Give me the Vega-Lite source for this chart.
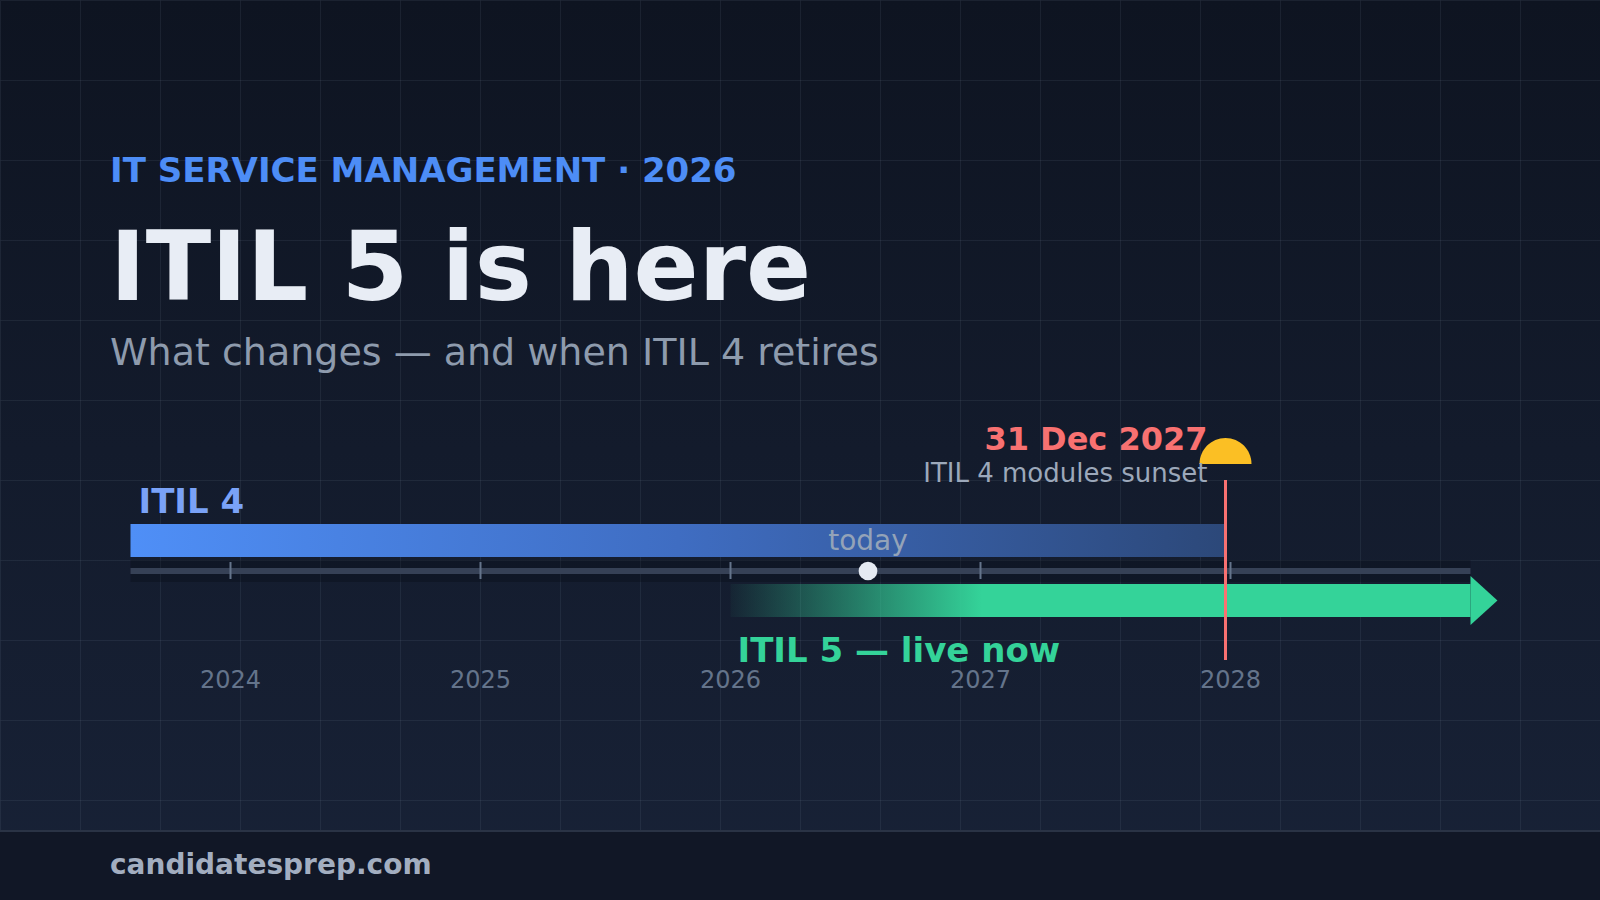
{
  "$schema": "https://vega.github.io/schema/vega-lite/v6.json",
  "width": 1600,
  "height": 900,
  "autosize": {"type": "none"},
  "padding": 0,
  "background": "#0f1522",
  "view": {
    "stroke": null,
    "fill": {
      "gradient": "linear", "x1": 0, "y1": 0, "x2": 0, "y2": 1,
      "stops": [
        {"offset": 0, "color": "#0e1421"},
        {"offset": 1, "color": "#182237"}
      ]
    }
  },
  "datasets": {
    "phases": [
      {"phase": "ITIL 4", "label": "ITIL 4", "start": 2023.6, "end": 2027.98},
      {"phase": "ITIL 5", "label": "ITIL 5 — live now", "start": 2026.0, "end": 2028.96}
    ],
    "years": [
      {"year": 2024}, {"year": 2025}, {"year": 2026}, {"year": 2027}, {"year": 2028}
    ],
    "events": [
      {"event": "today", "date": 2026.55, "label": "today", "note": ""},
      {"event": "sunset", "date": 2027.98, "label": "31 Dec 2027", "note": "ITIL 4 modules sunset"}
    ],
    "header": [
      {
        "kicker": "IT SERVICE MANAGEMENT · 2026",
        "title": "ITIL 5 is here",
        "subtitle": "What changes — and when ITIL 4 retires",
        "site": "candidatesprep.com"
      }
    ]
  },
  "layer": [
    {
      "data": {"name": "phases"},
      "transform": [
        {"aggregate": [
          {"op": "min", "field": "start", "as": "start"},
          {"op": "max", "field": "end", "as": "end"}
        ]}
      ],
      "mark": {"type": "rect", "fill": "#070b14", "opacity": 0.3},
      "encoding": {
        "x": {
          "field": "start", "type": "quantitative", "title": null,
          "scale": {"domain": [2023.078, 2029.478], "nice": false, "zero": false},
          "axis": {
            "orient": "top",
            "values": [2023.078, 2023.398, 2023.718, 2024.038, 2024.358, 2024.678, 2024.998, 2025.318, 2025.638, 2025.958, 2026.278, 2026.598, 2026.918, 2027.238, 2027.558, 2027.878, 2028.198, 2028.518, 2028.838, 2029.158, 2029.478]
          }
        },
        "x2": {"field": "end"},
        "y": {
          "datum": 560,
          "scale": {"domain": [0, 900], "reverse": true, "nice": false, "zero": false},
          "axis": {"values": [0, 80, 160, 240, 320, 400, 480, 560, 640, 720, 800]}
        },
        "y2": {"datum": 582}
      }
    },
    {
      "data": {"name": "phases"},
      "transform": [{"filter": "datum.phase === 'ITIL 4'"}],
      "mark": {
        "type": "rect",
        "fill": {
          "gradient": "linear", "x1": 0, "y1": 0, "x2": 1, "y2": 0,
          "stops": [
            {"offset": 0, "color": "#4f8ff7"},
            {"offset": 0.5, "color": "#3f6dc2"},
            {"offset": 1, "color": "#2c4879"}
          ]
        }
      },
      "encoding": {
        "x": {"field": "start", "type": "quantitative", "title": null},
        "x2": {"field": "end"},
        "y": {"datum": 524},
        "y2": {"datum": 557}
      }
    },
    {
      "data": {"name": "phases"},
      "transform": [
        {"aggregate": [
          {"op": "min", "field": "start", "as": "start"},
          {"op": "max", "field": "end", "as": "end"}
        ]}
      ],
      "mark": {"type": "rect", "fill": "#364156"},
      "encoding": {
        "x": {"field": "start", "type": "quantitative", "title": null},
        "x2": {"field": "end"},
        "y": {"datum": 568},
        "y2": {"datum": 574}
      }
    },
    {
      "data": {"name": "years"},
      "mark": {"type": "rule", "stroke": "#64748b", "strokeWidth": 2},
      "encoding": {
        "x": {"field": "year", "type": "quantitative", "title": null},
        "y": {"datum": 562},
        "y2": {"datum": 579}
      }
    },
    {
      "data": {"name": "phases"},
      "transform": [{"filter": "datum.phase === 'ITIL 5'"}],
      "mark": {
        "type": "rect",
        "fill": {
          "gradient": "linear", "x1": 0, "y1": 0, "x2": 1, "y2": 0,
          "stops": [
            {"offset": 0, "color": "rgba(52,211,153,0.04)"},
            {"offset": 0.34, "color": "#34d399"},
            {"offset": 1, "color": "#34d399"}
          ]
        }
      },
      "encoding": {
        "x": {"field": "start", "type": "quantitative", "title": null},
        "x2": {"field": "end"},
        "y": {"datum": 584},
        "y2": {"datum": 617}
      }
    },
    {
      "data": {"name": "phases"},
      "transform": [{"filter": "datum.phase === 'ITIL 5'"}],
      "mark": {
        "type": "point", "filled": true, "opacity": 1, "color": "#34d399",
        "shape": "M 0 -1 L 1.1 0 L 0 1 Z", "size": 2401
      },
      "encoding": {
        "x": {"field": "end", "type": "quantitative", "title": null},
        "y": {"datum": 600.5}
      }
    },
    {
      "data": {"name": "events"},
      "transform": [{"filter": "datum.event === 'sunset'"}],
      "mark": {"type": "rule", "stroke": "#f87171", "strokeWidth": 3},
      "encoding": {
        "x": {"field": "date", "type": "quantitative", "title": null},
        "y": {"datum": 480},
        "y2": {"datum": 660}
      }
    },
    {
      "data": {"name": "events"},
      "transform": [{"filter": "datum.event === 'sunset'"}],
      "mark": {
        "type": "point", "filled": true, "opacity": 1, "color": "#fbbf24",
        "shape": "M -1 0 A 1 1 0 0 1 1 0 Z", "size": 2704
      },
      "encoding": {
        "x": {"field": "date", "type": "quantitative", "title": null},
        "y": {"datum": 464}
      }
    },
    {
      "data": {"name": "events"},
      "transform": [{"filter": "datum.event === 'today'"}],
      "mark": {"type": "point", "filled": true, "opacity": 1, "color": "#e5eaf2", "shape": "circle", "size": 350},
      "encoding": {
        "x": {"field": "date", "type": "quantitative", "title": null},
        "y": {"datum": 571}
      }
    },
    {
      "data": {"name": "events"},
      "transform": [{"filter": "datum.event === 'today'"}],
      "mark": {"type": "text", "align": "center", "baseline": "alphabetic", "fontSize": 28, "color": "#94a3b8"},
      "encoding": {
        "x": {"field": "date", "type": "quantitative", "title": null},
        "y": {"datum": 550},
        "text": {"field": "label"}
      }
    },
    {
      "data": {"name": "years"},
      "mark": {"type": "text", "align": "center", "baseline": "alphabetic", "fontSize": 24, "color": "#64748b"},
      "encoding": {
        "x": {"field": "year", "type": "quantitative", "title": null},
        "y": {"datum": 688},
        "text": {"field": "year", "type": "quantitative", "format": "d"}
      }
    },
    {
      "data": {"name": "phases"},
      "transform": [{"filter": "datum.phase === 'ITIL 4'"}],
      "mark": {"type": "text", "align": "left", "baseline": "alphabetic", "dx": 8, "fontSize": 34, "fontWeight": "bold", "color": "#7aa2f7"},
      "encoding": {
        "x": {"field": "start", "type": "quantitative", "title": null},
        "y": {"datum": 513},
        "text": {"field": "label"}
      }
    },
    {
      "data": {"name": "phases"},
      "transform": [{"filter": "datum.phase === 'ITIL 5'"}],
      "mark": {"type": "text", "align": "left", "baseline": "alphabetic", "dx": 7, "fontSize": 34, "fontWeight": "bold", "color": "#34d399"},
      "encoding": {
        "x": {"field": "start", "type": "quantitative", "title": null},
        "y": {"datum": 662},
        "text": {"field": "label"}
      }
    },
    {
      "data": {"name": "events"},
      "transform": [{"filter": "datum.event === 'sunset'"}],
      "mark": {"type": "text", "align": "right", "baseline": "alphabetic", "dx": -18, "fontSize": 32, "fontWeight": "bold", "color": "#f87171"},
      "encoding": {
        "x": {"field": "date", "type": "quantitative", "title": null},
        "y": {"datum": 450},
        "text": {"field": "label"}
      }
    },
    {
      "data": {"name": "events"},
      "transform": [{"filter": "datum.event === 'sunset'"}],
      "mark": {"type": "text", "align": "right", "baseline": "alphabetic", "dx": -18, "fontSize": 26, "color": "#9ca8ba"},
      "encoding": {
        "x": {"field": "date", "type": "quantitative", "title": null},
        "y": {"datum": 482},
        "text": {"field": "note"}
      }
    },
    {
      "data": {"name": "header"},
      "mark": {"type": "text", "align": "left", "baseline": "alphabetic", "fontSize": 34, "fontWeight": "bold", "color": "#4d8df6"},
      "encoding": {
        "x": {"datum": 2023.518},
        "y": {"datum": 182},
        "text": {"field": "kicker"}
      }
    },
    {
      "data": {"name": "header"},
      "mark": {"type": "text", "align": "left", "baseline": "alphabetic", "fontSize": 96, "fontWeight": "bold", "color": "#e8edf5"},
      "encoding": {
        "x": {"datum": 2023.518},
        "y": {"datum": 300},
        "text": {"field": "title"}
      }
    },
    {
      "data": {"name": "header"},
      "mark": {"type": "text", "align": "left", "baseline": "alphabetic", "fontSize": 38, "color": "#8e9bad"},
      "encoding": {
        "x": {"datum": 2023.518},
        "y": {"datum": 365},
        "text": {"field": "subtitle"}
      }
    },
    {
      "data": {"name": "header"},
      "mark": {"type": "rect", "fill": "#111726"},
      "encoding": {
        "y": {"datum": 830},
        "y2": {"datum": 900}
      }
    },
    {
      "data": {"name": "header"},
      "mark": {"type": "rule", "stroke": "#2a3345", "strokeWidth": 2},
      "encoding": {
        "y": {"datum": 831}
      }
    },
    {
      "data": {"name": "header"},
      "mark": {"type": "text", "align": "left", "baseline": "alphabetic", "fontSize": 28, "fontWeight": "bold", "color": "#a3aec0"},
      "encoding": {
        "x": {"datum": 2023.518},
        "y": {"datum": 874},
        "text": {"field": "site"}
      }
    }
  ],
  "config": {
    "font": "DejaVu Sans",
    "text": {"font": "DejaVu Sans"},
    "axis": {
      "title": null,
      "labels": false,
      "ticks": false,
      "domain": false,
      "grid": true,
      "gridColor": "#94a3b8",
      "gridOpacity": 0.1,
      "gridWidth": 1
    }
  }
}
